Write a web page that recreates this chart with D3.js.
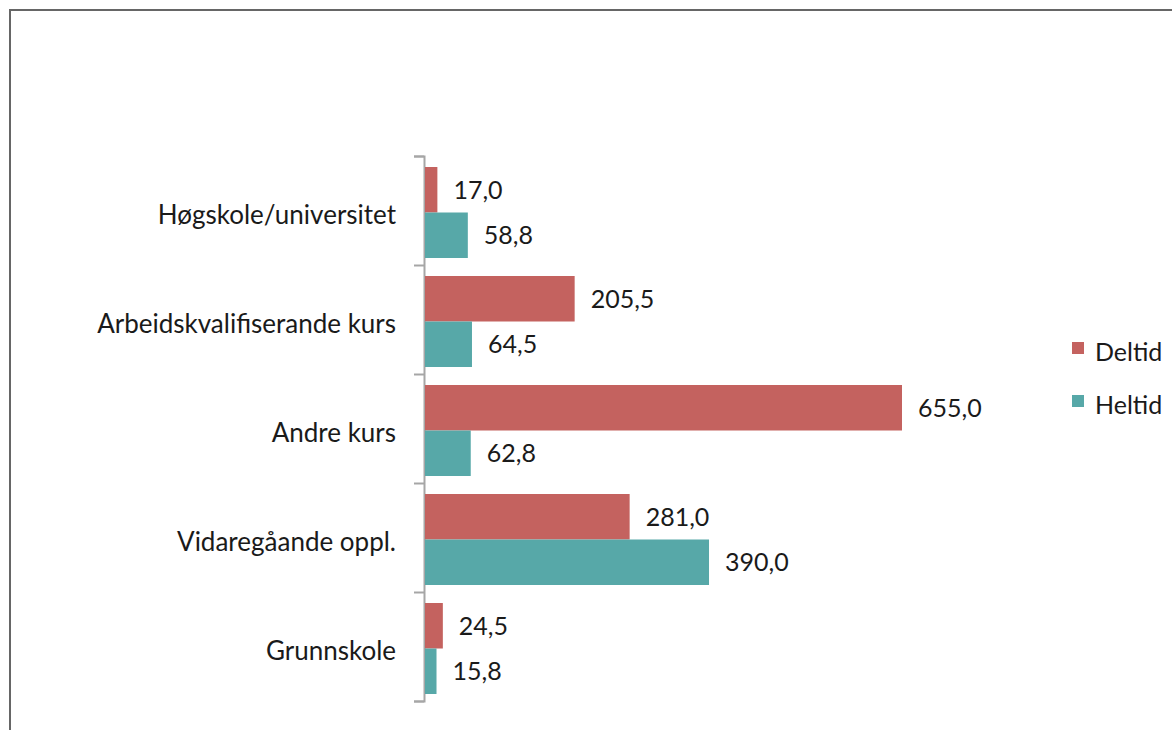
<!DOCTYPE html>
<html>
<head>
<meta charset="utf-8">
<script src="https://cdn.jsdelivr.net/npm/d3@7"></script>
<style>
  html, body { margin: 0; padding: 0; background: #fff; }
  svg { display: block; }
  text { font-family: Lato, "Open Sans", sans-serif; fill: #1a1a1a; }
</style>
</head>
<body>
<div class="chart"></div>
<script>
  const categories = ['Høgskole/universitet', 'Arbeidskvalifiserande kurs', 'Andre kurs', 'Vidaregåande oppl.', 'Grunnskole'];
  const series = ['Deltid', 'Heltid'];
  const deltid = [17.0, 205.5, 655.0, 281.0, 24.5];
  const heltid = [58.8, 64.5, 62.8, 390.0, 15.8];
  const colors = ['#c4625f', '#57a8a8'];

  const config = {
    width: 1172,
    height: 730,
    top: 156,
    bottom: 701,
    left: 425,
    labelSize: 26,
    valueSize: 25
  };

  const chart = {};

  chart.$svg = d3.select('.chart')
    .append('svg')
    .attr('width', config.width)
    .attr('height', config.height);

  // frame round the whole chart (runs off the right and bottom edge)
  chart.$svg.append('rect')
    .attr('x', 10)
    .attr('y', 10)
    .attr('width', config.width + 20)
    .attr('height', config.height + 20)
    .attr('fill', 'none')
    .attr('stroke', '#666')
    .attr('stroke-width', 2);

  const rows = categories.map((c, i) => ({
    category: c,
    values: [deltid[i], heltid[i]]
  }));

  chart.yScale = d3.scaleBand()
    .domain(categories)
    .range([config.top, config.bottom]);

  chart.inner = d3.scaleBand()
    .domain(series)
    .range([11, chart.yScale.bandwidth() - 7]);

  chart.xScale = d3.scaleLinear()
    .domain([0, 655])
    .range([config.left, 902]);

  // axis with ticks on the band edges
  const edges = d3.scaleLinear()
    .domain([0, categories.length])
    .range([config.top, config.bottom]);

  chart.$svg.append('g')
    .attr('transform', `translate(${config.left - 1},0)`)
    .call(d3.axisLeft(edges).ticks(categories.length).tickSize(10).tickFormat(''))
    .call(g => g.selectAll('line, path')
      .attr('stroke', '#a6a6a6')
      .attr('stroke-width', 2));

  chart.$svg.append('g')
    .selectAll('text')
    .data(categories)
    .enter()
    .append('text')
    .attr('x', 396)
    .attr('y', d => chart.yScale(d) + chart.yScale.bandwidth() / 2 + 4)
    .attr('dy', '0.35em')
    .attr('text-anchor', 'end')
    .attr('font-size', config.labelSize)
    .text(d => d);

  chart.$groups = chart.$svg.append('g')
    .selectAll('g')
    .data(rows)
    .enter()
    .append('g')
    .attr('transform', d => `translate(0, ${chart.yScale(d.category)})`)
    .each(function (d) {
      const $group = d3.select(this);

      d.values.forEach((v, i) => {
        const s = series[i];
        $group.append('rect')
          .attr('x', chart.xScale(0))
          .attr('y', chart.inner(s))
          .attr('width', chart.xScale(v) - chart.xScale(0))
          .attr('height', chart.inner.bandwidth())
          .attr('fill', colors[i]);

        $group.append('text')
          .attr('x', chart.xScale(v) + 16)
          .attr('y', chart.inner(s) + chart.inner.bandwidth() / 2)
          .attr('dy', '0.35em')
          .attr('font-size', config.valueSize)
          .text(d3.format('.1f')(v).replace('.', ','));
      });
    });

  // legend
  const legend = chart.$svg.append('g')
    .selectAll('g')
    .data(series)
    .enter()
    .append('g')
    .attr('transform', (d, i) => `translate(1072, ${352 + i * 53})`);

  legend.append('rect')
    .attr('x', 0)
    .attr('y', -10)
    .attr('width', 12)
    .attr('height', 12)
    .attr('fill', (d, i) => colors[i]);

  legend.append('text')
    .attr('x', 23)
    .attr('y', 0)
    .attr('dy', '0.35em')
    .attr('font-size', config.valueSize)
    .text(d => d);
</script>
</body>
</html>
